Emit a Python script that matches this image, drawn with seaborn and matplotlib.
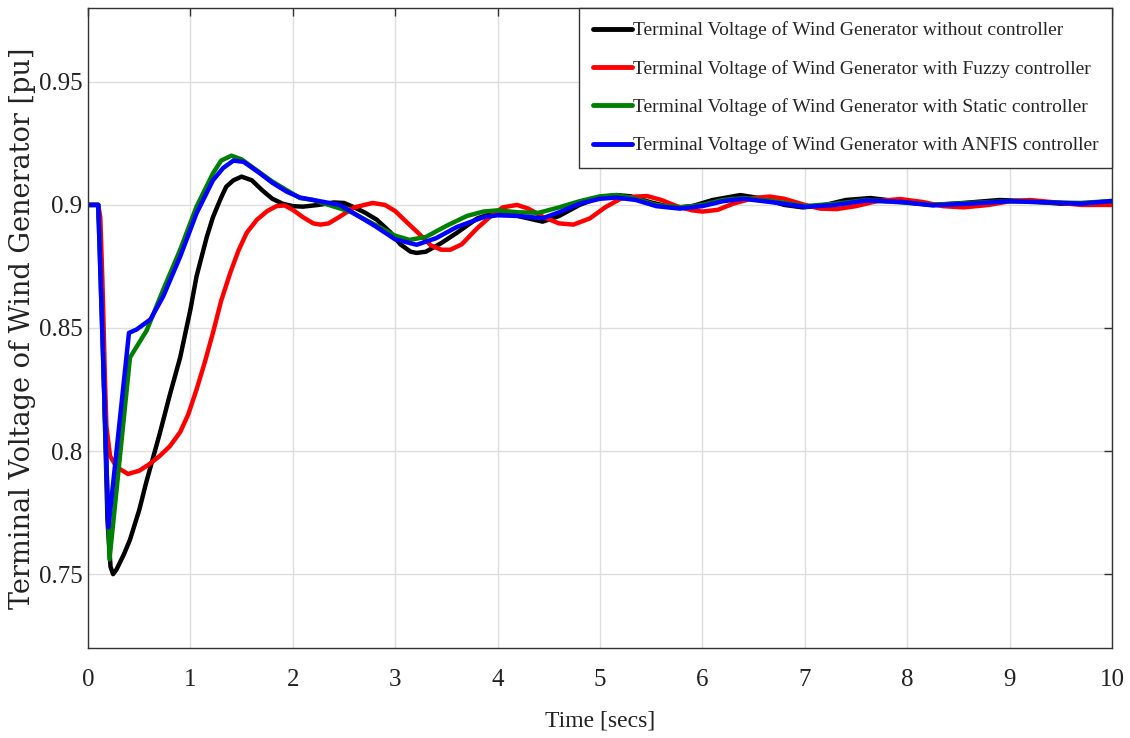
import numpy as np
import pandas as pd
import matplotlib
matplotlib.use("Agg")
import matplotlib.pyplot as plt
import seaborn as sns

# ---------------- data ----------------
t_black = [0, 0.1, 0.13, 0.16, 0.19, 0.22, 0.245, 0.28, 0.35, 0.41, 0.5, 0.57, 0.7, 0.8, 0.9,
           1.0, 1.06, 1.16, 1.22, 1.3, 1.35, 1.42, 1.5, 1.6, 1.7, 1.8, 1.9, 2.0, 2.1, 2.25, 2.4,
           2.5, 2.6, 2.7, 2.82, 2.95, 3.05, 3.15, 3.21, 3.3, 3.45, 3.6, 3.8, 3.96, 4.1, 4.25,
           4.44, 4.6, 4.8, 5.0, 5.16, 5.3, 5.5, 5.72, 5.9, 6.1, 6.37, 6.6, 6.8, 6.98, 7.2, 7.4,
           7.64, 7.9, 8.25, 8.55, 8.9, 9.2, 9.5, 9.8, 10.0]
v_black = [0.9, 0.9, 0.875, 0.82, 0.772, 0.753, 0.750, 0.752, 0.758, 0.764, 0.776, 0.7875, 0.807,
           0.823, 0.838, 0.8575, 0.871, 0.887, 0.895, 0.903, 0.9074, 0.910, 0.9115, 0.910, 0.906,
           0.9025, 0.9005, 0.8995, 0.8993, 0.900, 0.901, 0.9008, 0.899, 0.897, 0.894, 0.889,
           0.884, 0.881, 0.8805, 0.881, 0.8845, 0.8886, 0.8945, 0.8968, 0.8965, 0.895, 0.8932,
           0.8955, 0.900, 0.9032, 0.904, 0.9035, 0.901, 0.8988, 0.8995, 0.902, 0.904, 0.9025,
           0.900, 0.899, 0.900, 0.902, 0.9028, 0.9015, 0.900, 0.9008, 0.902, 0.9015, 0.9005,
           0.9008, 0.9012]

t_red = [0, 0.1, 0.12, 0.14, 0.15, 0.165, 0.18, 0.215, 0.28, 0.39, 0.5, 0.6, 0.7, 0.8, 0.9, 0.98,
         1.06, 1.14, 1.22, 1.3, 1.39, 1.47, 1.55, 1.65, 1.75, 1.84, 1.92, 2.0, 2.1, 2.2, 2.27,
         2.35, 2.45, 2.6, 2.78, 2.9, 3.0, 3.1, 3.24, 3.35, 3.45, 3.54, 3.65, 3.8, 3.93, 4.05,
         4.19, 4.3, 4.45, 4.6, 4.74, 4.9, 5.05, 5.2, 5.35, 5.46, 5.6, 5.75, 5.9, 6.0, 6.15, 6.3,
         6.5, 6.66, 6.8, 7.0, 7.15, 7.31, 7.5, 7.7, 7.93, 8.15, 8.35, 8.55, 8.8, 9.0, 9.2, 9.45,
         9.7, 10.0]
v_red = [0.9, 0.9, 0.895, 0.87, 0.855, 0.83, 0.81, 0.798, 0.7935, 0.7907, 0.792, 0.7947, 0.798,
         0.802, 0.8077, 0.815, 0.825, 0.836, 0.848, 0.861, 0.8725, 0.8815, 0.8887, 0.894, 0.8975,
         0.8995, 0.8998, 0.898, 0.895, 0.8925, 0.892, 0.8925, 0.895, 0.899, 0.9008, 0.900,
         0.8975, 0.8935, 0.888, 0.8835, 0.8818, 0.8818, 0.884, 0.8905, 0.8953, 0.899, 0.900,
         0.8985, 0.895, 0.8925, 0.892, 0.8945, 0.899, 0.9025, 0.9034, 0.9036, 0.902, 0.8995,
         0.8978, 0.8973, 0.898, 0.9005, 0.9028, 0.9034, 0.9025, 0.900, 0.8985, 0.8983, 0.8995,
         0.9015, 0.9024, 0.9012, 0.8995, 0.899, 0.900, 0.9015, 0.902, 0.901, 0.900, 0.900]

t_green = [0, 0.1, 0.21, 0.41, 0.573, 0.735, 0.9, 1.06, 1.22, 1.3, 1.40, 1.5, 1.65, 1.8, 1.94,
           2.07, 2.2, 2.35, 2.56, 2.8, 3.0, 3.14, 3.3, 3.5, 3.7, 3.86, 4.0, 4.2, 4.4, 4.6, 4.8,
           5.0, 5.16, 5.35, 5.55, 5.78, 6.0, 6.2, 6.4, 6.7, 7.0, 7.3, 7.6, 7.95, 8.25, 8.6, 9.0,
           9.4, 9.7, 10.0]
v_green = [0.9, 0.9, 0.756, 0.838, 0.849, 0.8656, 0.8818, 0.8993, 0.9128, 0.918, 0.920, 0.9185,
           0.914, 0.9095, 0.906, 0.9028, 0.902, 0.900, 0.8973, 0.892, 0.8875, 0.8858, 0.887,
           0.8915, 0.8955, 0.8973, 0.8978, 0.897, 0.8968, 0.899, 0.9015, 0.9035, 0.904, 0.9025,
           0.900, 0.899, 0.900, 0.902, 0.9028, 0.9015, 0.8995, 0.9005, 0.902, 0.901, 0.900,
           0.9008, 0.9015, 0.901, 0.9008, 0.9016]

t_blue = [0, 0.1, 0.2, 0.40, 0.475, 0.61, 0.735, 0.9, 1.06, 1.22, 1.32, 1.42, 1.52, 1.68, 1.8,
          1.94, 2.07, 2.2, 2.46, 2.8, 3.0, 3.21, 3.4, 3.6, 3.86, 4.0, 4.2, 4.44, 4.6, 4.8, 5.0,
          5.16, 5.35, 5.55, 5.78, 6.0, 6.2, 6.4, 6.7, 7.0, 7.3, 7.6, 7.95, 8.25, 8.6, 9.0, 9.4,
          9.7, 10.0]
v_blue = [0.9, 0.9, 0.769, 0.848, 0.8494, 0.8535, 0.8629, 0.879, 0.8966, 0.910, 0.915, 0.918,
          0.9175, 0.9128, 0.909, 0.9054, 0.903, 0.902, 0.900, 0.8915, 0.886, 0.8838, 0.8865,
          0.891, 0.895, 0.8958, 0.8955, 0.8946, 0.897, 0.9005, 0.9025, 0.903, 0.902, 0.8995,
          0.8985, 0.8995, 0.9015, 0.9025, 0.901, 0.8992, 0.900, 0.9018, 0.9012, 0.8998, 0.9005,
          0.9015, 0.901, 0.9005, 0.9016]

labels = ["Terminal Voltage of Wind Generator without controller",
          "Terminal Voltage of Wind Generator with Fuzzy controller",
          "Terminal Voltage of Wind Generator with Static controller",
          "Terminal Voltage of Wind Generator with ANFIS controller"]
colors = ["#000000", "#ff0000", "#008000", "#0000ff"]

x_ticks = [0, 1, 2, 3, 4, 5, 6, 7, 8, 9, 10]
y_ticks = [0.75, 0.8, 0.85, 0.9, 0.95]
y_tick_labels = ["0.75", "0.8", "0.85", "0.9", "0.95"]

frames = []
for lab, tt, vv in zip(labels, [t_black, t_red, t_green, t_blue],
                       [v_black, v_red, v_green, v_blue]):
    frames.append(pd.DataFrame({"t": tt, "v": vv, "series": lab}))
df = pd.concat(frames, ignore_index=True)

# ---------------- plotting ----------------
sns.set_theme(style="white")
plt.rcParams["font.family"] = ["Liberation Serif", "DejaVu Serif"]

fig = plt.figure(figsize=(11.3, 7.38), dpi=100)
ax = fig.add_axes([88 / 1130, 90 / 738, (1112 - 88) / 1130, (648 - 8) / 738])

sns.lineplot(data=df, x="t", y="v", hue="series", hue_order=labels,
             palette=dict(zip(labels, colors)), estimator=None, sort=False,
             linewidth=3.2, ax=ax)

ax.set_xlim(0, 10)
ax.set_ylim(0.72, 0.98)
ax.set_xticks(x_ticks)
ax.set_xticklabels([str(x) for x in x_ticks])
ax.set_yticks(y_ticks)
ax.set_yticklabels(y_tick_labels)
ax.grid(True, color="#dddddd", linewidth=1.0)
ax.set_axisbelow(True)
ax.tick_params(direction="in", length=6, width=1, colors="#333333",
               labelsize=18, labelcolor="#222222", top=True, right=True)
ax.tick_params(axis="x", pad=15)
ax.tick_params(axis="y", pad=4)
for s in ax.spines.values():
    s.set_color("#333333")
    s.set_linewidth(1.0)

ax.set_xlabel("Time [secs]", fontsize=17, color="#222222", labelpad=14)
ax.set_ylabel("Terminal Voltage of Wind Generator [pu]", fontsize=19.5,
              family=["DejaVu Serif"], color="#222222", labelpad=2)

leg = ax.legend(loc="upper right", fontsize=14.0, frameon=True, fancybox=False,
                edgecolor="#333333", framealpha=1, handlelength=2.0,
                handletextpad=0.05, borderpad=0.7, labelspacing=1.05,
                borderaxespad=0.0)
leg.get_frame().set_linewidth(1.0)
for line in leg.get_lines():
    line.set_linewidth(3.5)

fig.savefig("out.png", dpi=100)
